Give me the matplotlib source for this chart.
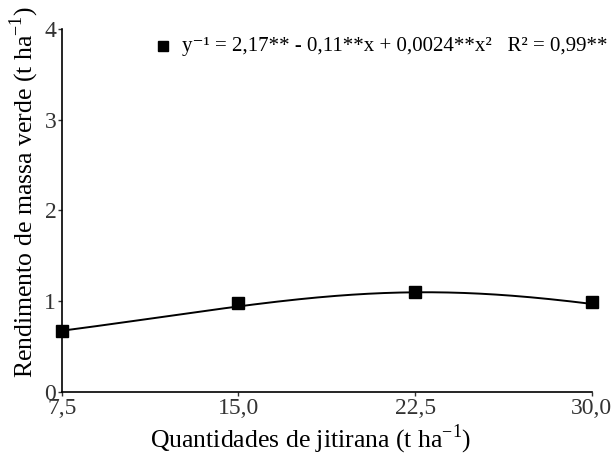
import numpy as np
import matplotlib
matplotlib.use("Agg")
import matplotlib.pyplot as plt

plt.rcParams['font.family'] = ['Liberation Serif', 'DejaVu Serif']
plt.rcParams['mathtext.fontset'] = 'custom'
plt.rcParams['mathtext.rm'] = 'Liberation Serif'

# observed yield per amount of jitirana
doses = [7.5, 15.0, 22.5, 30.0]
yield_obs = [0.67, 0.98, 1.10, 0.99]

# fitted model: 1/y = b0 + b1*x + b2*x^2
b0, b1, b2 = 2.17, -0.11, 0.0024

xticks = [7.5, 15.0, 22.5, 30.0]
xticklabels = ['7,5', '15,0', '22,5', '30,0']
yticks = [0, 1, 2, 3, 4]

fig = plt.figure(figsize=(6.12, 4.57), dpi=100)
ax = fig.add_axes([0.101, 0.142, 0.866, 0.795])

xs = np.linspace(doses[0], doses[-1], 200)
ax.plot(xs, 1.0 / (b0 + b1 * xs + b2 * xs ** 2), '-', c='black', lw=1.4)
ax.plot(doses, yield_obs, 's', c='black', ms=8, clip_on=False, zorder=3)

ax.set_xlim(7.5, 30.0)
ax.set_ylim(0, 4)
ax.set_xticks(xticks)
ax.set_xticklabels(xticklabels)
ax.set_yticks(yticks)
ax.tick_params(labelsize=17, length=3, width=1, pad=1, colors='#333333')
ax.spines['top'].set_visible(False)
ax.spines['right'].set_visible(False)
ax.spines['left'].set_linewidth(1.2)
ax.spines['bottom'].set_linewidth(1.2)

ax.set_xlabel('Quantidades de jitirana (t ha$^{-1}$)', fontsize=18.5)
ax.set_ylabel('Rendimento de massa verde (t ha$^{-1}$)', fontsize=18.5)
ax.xaxis.set_label_coords(0.47, -0.085)
ax.yaxis.set_label_coords(-0.04, 0.55)

# equation legend
ax.plot([11.8], [3.81], 's', c='black', ms=7.5)
ax.text(12.6, 3.81, 'y\u207b\u00b9 = 2,17** - 0,11**x + 0,0024**x\u00b2   R\u00b2 = 0,99**',
        fontsize=15, va='center', ha='left')

fig.savefig('out.png', dpi=100)
